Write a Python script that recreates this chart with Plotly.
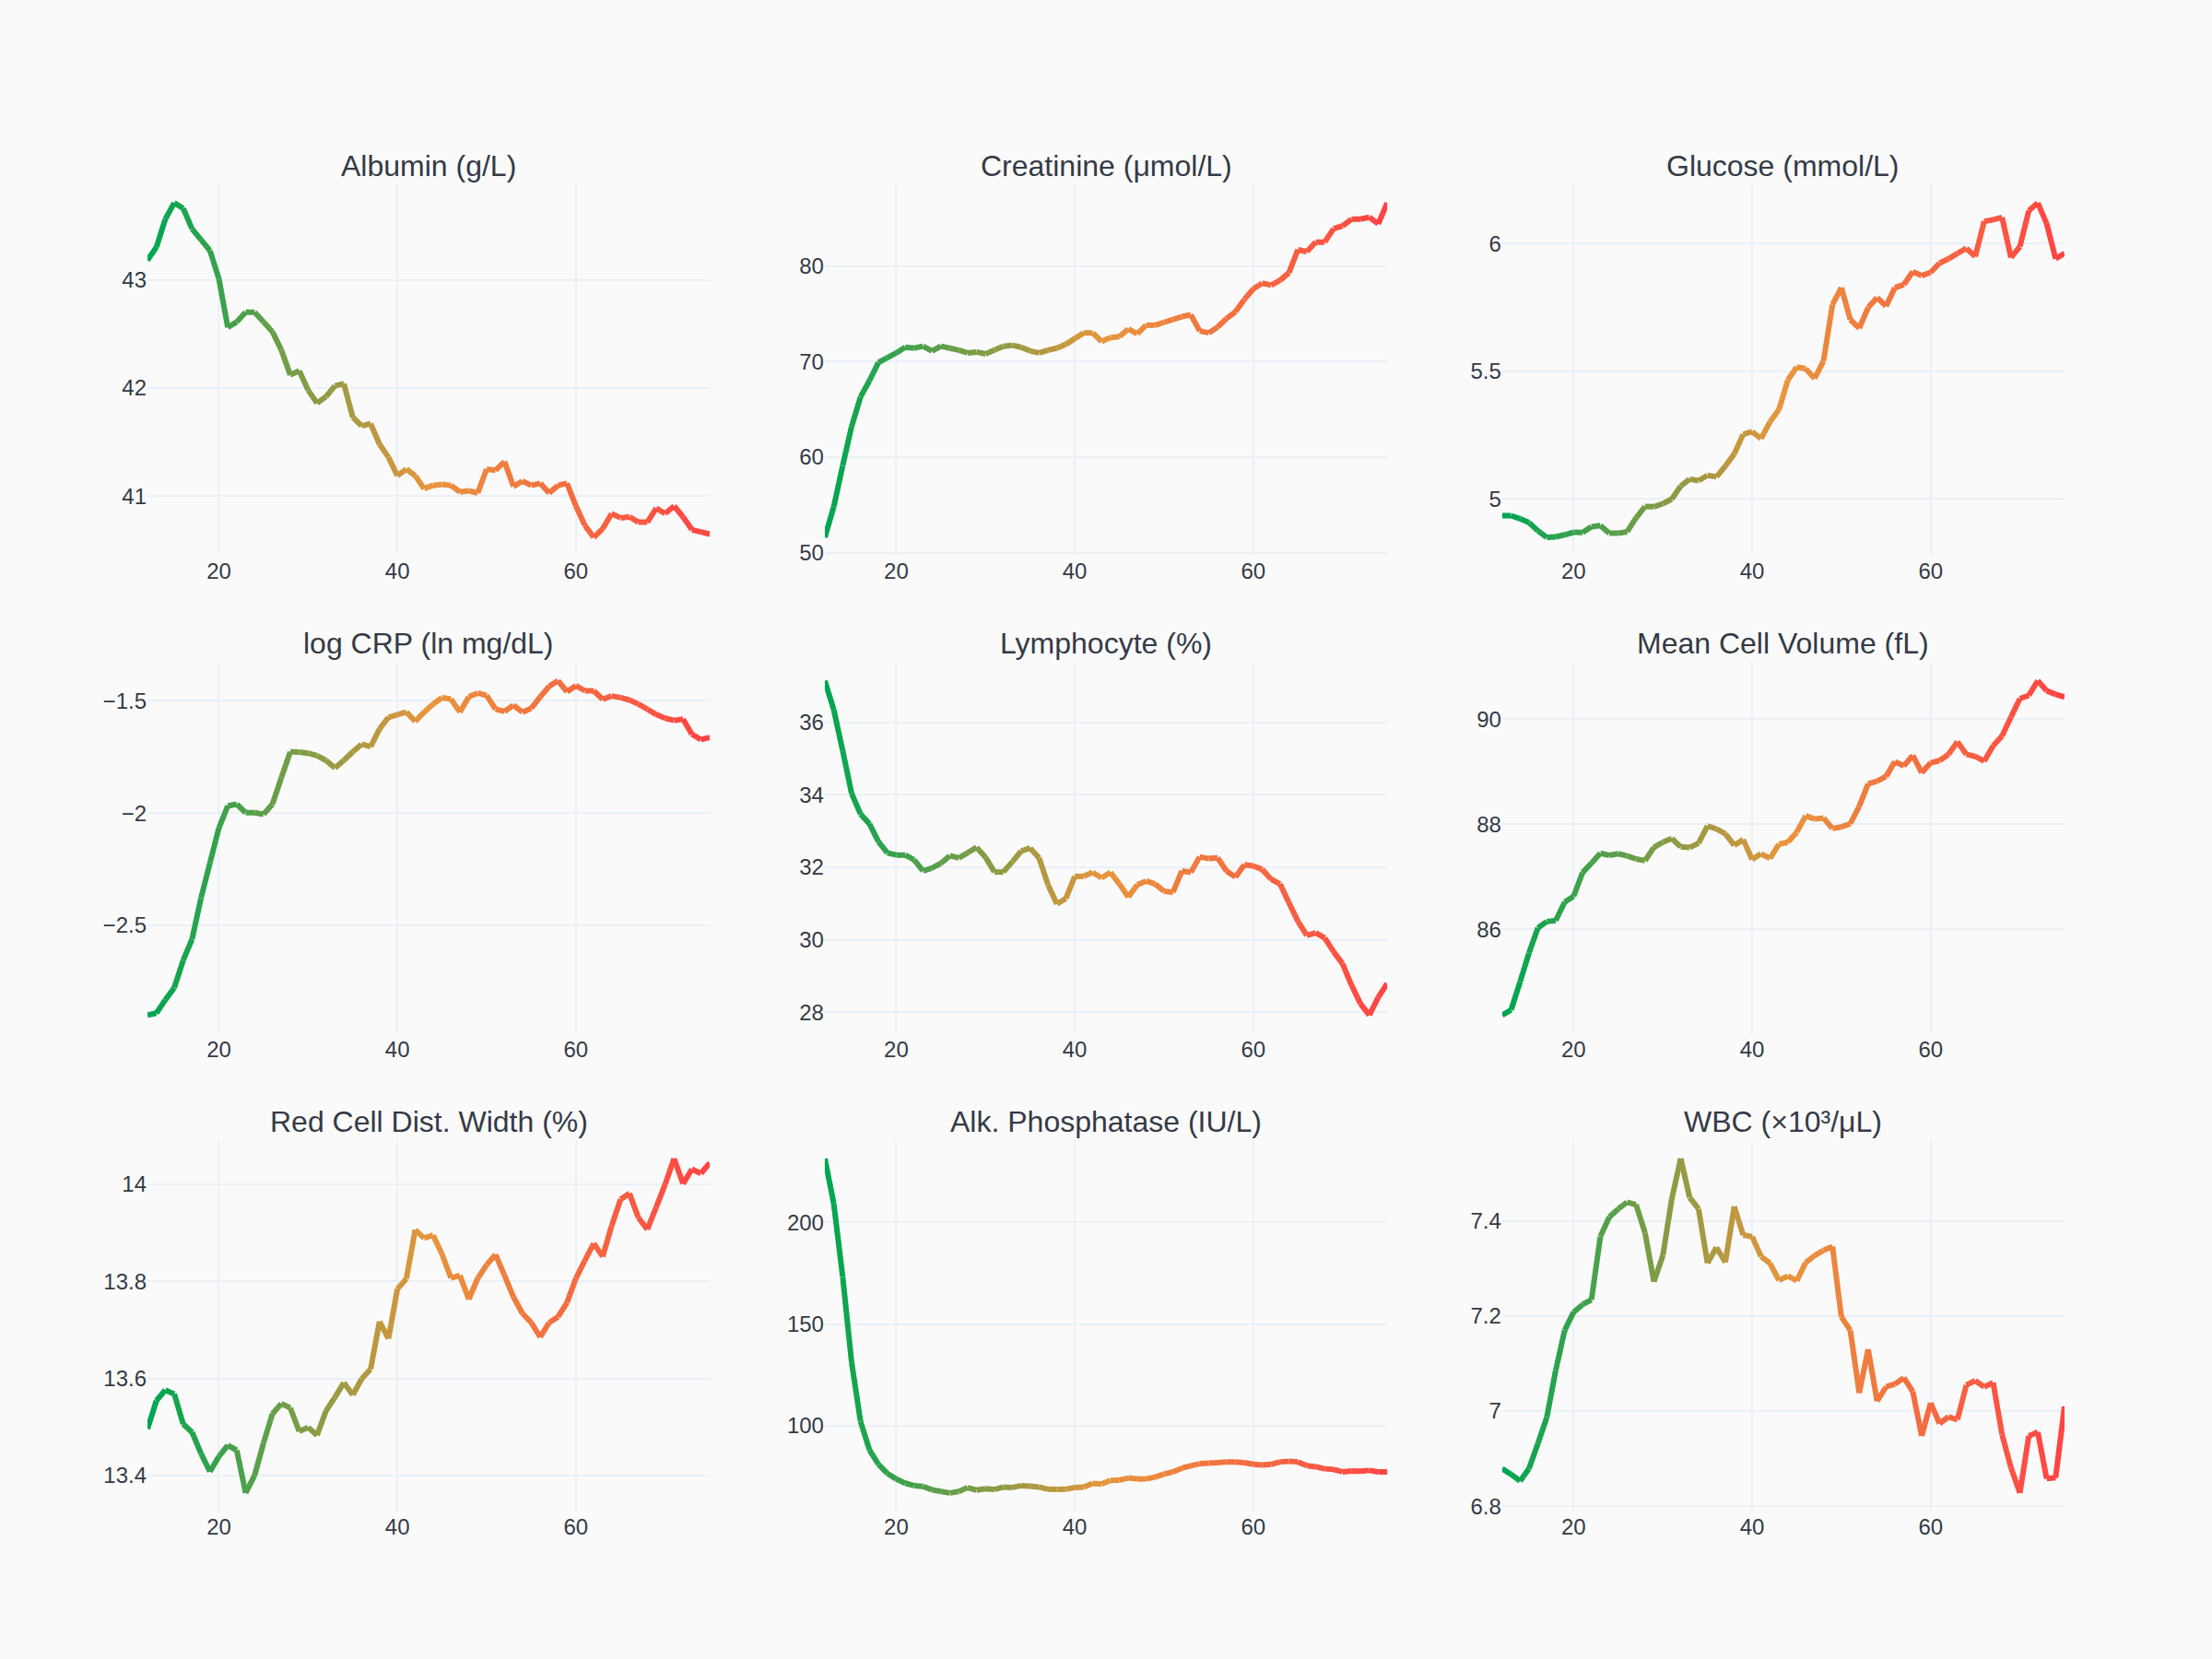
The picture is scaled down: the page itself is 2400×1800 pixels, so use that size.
import plotly.graph_objects as go
from plotly.subplots import make_subplots

AGES = list(range(12, 76))

TITLES = [
    "Albumin (g/L)", "Creatinine (μmol/L)", "Glucose (mmol/L)",
    "log CRP (ln mg/dL)", "Lymphocyte (%)", "Mean Cell Volume (fL)",
    "Red Cell Dist. Width (%)", "Alk. Phosphatase (IU/L)", "WBC (×10³/μL)",
]

ALBUMIN = [43.18, 43.30, 43.56, 43.71, 43.66, 43.47, 43.37, 43.27, 43.01, 42.56,
           42.61, 42.70, 42.70, 42.61, 42.52, 42.35, 42.12, 42.16, 41.98, 41.86,
           41.92, 42.02, 42.04, 41.73, 41.65, 41.67, 41.48, 41.36, 41.19, 41.25,
           41.19, 41.07, 41.10, 41.11, 41.10, 41.04, 41.05, 41.03, 41.25, 41.24,
           41.32, 41.09, 41.14, 41.10, 41.12, 41.03, 41.10, 41.12, 40.91, 40.73,
           40.62, 40.70, 40.84, 40.80, 40.81, 40.76, 40.76, 40.89, 40.84, 40.91,
           40.81, 40.69, 40.67, 40.65]

CREATININE = [51.6, 54.8, 59.1, 63.2, 66.3, 68.0, 69.9, 70.4, 70.9, 71.5,
              71.4, 71.6, 71.1, 71.6, 71.4, 71.2, 70.9, 71.0, 70.8, 71.2,
              71.6, 71.7, 71.5, 71.1, 70.9, 71.2, 71.4, 71.8, 72.4, 73.0,
              73.0, 72.1, 72.5, 72.6, 73.4, 72.9, 73.8, 73.8, 74.1, 74.4,
              74.7, 74.9, 73.2, 73.0, 73.6, 74.5, 75.2, 76.5, 77.6, 78.2,
              78.0, 78.5, 79.3, 81.7, 81.5, 82.5, 82.5, 83.9, 84.2, 84.9,
              84.9, 85.1, 84.4, 86.6]

GLUCOSE = [4.935, 4.935, 4.923, 4.908, 4.876, 4.850, 4.852, 4.860, 4.870, 4.869,
           4.892, 4.896, 4.866, 4.866, 4.872, 4.926, 4.971, 4.970, 4.982, 5.000,
           5.051, 5.078, 5.072, 5.093, 5.087, 5.129, 5.177, 5.254, 5.264, 5.237,
           5.302, 5.350, 5.466, 5.517, 5.511, 5.472, 5.541, 5.762, 5.828, 5.703,
           5.669, 5.750, 5.789, 5.756, 5.828, 5.840, 5.891, 5.875, 5.888, 5.924,
           5.941, 5.962, 5.982, 5.950, 6.088, 6.094, 6.103, 5.946, 5.989, 6.130,
           6.160, 6.079, 5.941, 5.963]

LOG_CRP = [-2.900, -2.891, -2.832, -2.778, -2.656, -2.561, -2.378, -2.222, -2.066, -1.968,
           -1.960, -1.998, -1.998, -2.005, -1.960, -1.842, -1.727, -1.728, -1.733, -1.744,
           -1.765, -1.799, -1.765, -1.727, -1.693, -1.704, -1.625, -1.573, -1.561, -1.550,
           -1.591, -1.550, -1.514, -1.486, -1.492, -1.550, -1.482, -1.465, -1.476, -1.537,
           -1.547, -1.519, -1.550, -1.533, -1.482, -1.435, -1.410, -1.459, -1.432, -1.455,
           -1.455, -1.493, -1.478, -1.485, -1.496, -1.514, -1.537, -1.561, -1.577, -1.587,
           -1.581, -1.649, -1.672, -1.663]

LYMPHOCYTE = [37.15, 36.35, 35.22, 34.04, 33.47, 33.20, 32.71, 32.40, 32.34, 32.34,
              32.21, 31.90, 31.98, 32.11, 32.32, 32.26, 32.40, 32.55, 32.28, 31.87,
              31.87, 32.15, 32.45, 32.53, 32.26, 31.52, 30.99, 31.14, 31.75, 31.75,
              31.86, 31.71, 31.86, 31.54, 31.18, 31.52, 31.62, 31.54, 31.34, 31.31,
              31.90, 31.86, 32.29, 32.24, 32.26, 31.90, 31.73, 32.07, 32.04, 31.94,
              31.67, 31.54, 31.02, 30.51, 30.12, 30.19, 30.05, 29.67, 29.34, 28.75,
              28.24, 27.92, 28.41, 28.79]

MCV = [84.37, 84.47, 85.00, 85.55, 86.03, 86.15, 86.17, 86.52, 86.63, 87.08,
       87.26, 87.45, 87.41, 87.44, 87.40, 87.34, 87.31, 87.56, 87.66, 87.73,
       87.57, 87.56, 87.64, 87.97, 87.91, 87.82, 87.60, 87.71, 87.33, 87.44,
       87.35, 87.62, 87.66, 87.85, 88.16, 88.10, 88.12, 87.92, 87.95, 88.01,
       88.34, 88.77, 88.82, 88.91, 89.19, 89.11, 89.31, 88.98, 89.17, 89.21,
       89.33, 89.57, 89.33, 89.29, 89.20, 89.49, 89.68, 90.04, 90.39, 90.45,
       90.73, 90.54, 90.47, 90.42]

RDW = [13.496, 13.554, 13.576, 13.568, 13.506, 13.489, 13.445, 13.408, 13.439, 13.462,
       13.452, 13.364, 13.400, 13.467, 13.527, 13.548, 13.539, 13.491, 13.499, 13.483,
       13.533, 13.561, 13.591, 13.566, 13.599, 13.619, 13.717, 13.682, 13.784, 13.805,
       13.906, 13.889, 13.895, 13.856, 13.807, 13.812, 13.763, 13.806, 13.834, 13.855,
       13.812, 13.768, 13.734, 13.715, 13.685, 13.715, 13.727, 13.756, 13.806, 13.843,
       13.878, 13.851, 13.914, 13.969, 13.981, 13.931, 13.907, 13.953, 14.000, 14.053,
       14.001, 14.031, 14.022, 14.044]

ALK_PHOS = [231.5, 209.3, 173.3, 131.2, 102.0, 88.0, 80.9, 76.4, 73.7, 71.6,
            70.4, 70.0, 68.4, 67.5, 66.8, 67.5, 69.4, 68.2, 68.9, 68.5,
            69.7, 69.5, 70.4, 70.1, 69.7, 68.6, 68.5, 68.6, 69.5, 69.7,
            71.5, 71.2, 73.0, 73.1, 74.2, 73.7, 73.7, 74.6, 76.1, 77.2,
            79.0, 80.2, 81.2, 81.5, 81.7, 82.1, 82.0, 81.7, 80.9, 80.6,
            80.9, 82.1, 82.4, 82.1, 80.2, 79.7, 78.7, 78.4, 77.2, 77.6,
            77.5, 77.9, 77.2, 77.2]

WBC = [6.879, 6.867, 6.853, 6.879, 6.932, 6.987, 7.086, 7.170, 7.208, 7.224,
       7.234, 7.367, 7.408, 7.425, 7.439, 7.434, 7.375, 7.272, 7.327, 7.446,
       7.531, 7.449, 7.425, 7.311, 7.344, 7.313, 7.430, 7.370, 7.367, 7.325,
       7.311, 7.275, 7.284, 7.274, 7.312, 7.327, 7.338, 7.346, 7.198, 7.170,
       7.038, 7.130, 7.021, 7.051, 7.057, 7.070, 7.041, 6.948, 7.017, 6.974,
       6.988, 6.982, 7.055, 7.064, 7.051, 7.060, 6.951, 6.881, 6.828, 6.948,
       6.956, 6.858, 6.860, 7.010]

SERIES = [ALBUMIN, CREATININE, GLUCOSE, LOG_CRP, LYMPHOCYTE, MCV, RDW, ALK_PHOS, WBC]
Y_DTICKS = [1, 10, 0.5, 0.5, 2, 2, 0.2, 50, 0.2]

STOPS = [(0.0, (0, 166, 81)), (0.5, (232, 149, 60)), (1.0, (255, 68, 68))]


def grad(t):
    for (t0, c0), (t1, c1) in zip(STOPS[:-1], STOPS[1:]):
        if t <= t1:
            f = (t - t0) / (t1 - t0)
            return "rgb({},{},{})".format(*[round(a + (b - a) * f) for a, b in zip(c0, c1)])
    return "rgb({},{},{})".format(*STOPS[-1][1])


TEXT = "#343a46"
GRID = "#EBF0F8"
BG = "#fafafa"
FONT = "Liberation Sans, Arial, Helvetica, sans-serif"

fig = make_subplots(rows=3, cols=3, subplot_titles=TITLES,
                    horizontal_spacing=0.06, vertical_spacing=0.08)

for k, vals in enumerate(SERIES):
    r, c = k // 3 + 1, k % 3 + 1
    n = min(len(AGES), len(vals))
    for i in range(n - 1):
        t = i / (n - 2)
        fig.add_trace(go.Scatter(
            x=AGES[i:i + 2], y=vals[i:i + 2], mode="lines",
            line=dict(color=grad(t), width=6),
            showlegend=False, hoverinfo="skip"), row=r, col=c)
    fig.update_yaxes(dtick=Y_DTICKS[k], row=r, col=c)

fig.update_xaxes(dtick=20, tick0=0, showgrid=True, gridcolor=GRID, gridwidth=2,
                 zeroline=False, showline=False, ticks="",
                 tickfont=dict(size=24, color=TEXT))
fig.update_yaxes(showgrid=True, gridcolor=GRID, gridwidth=2,
                 zeroline=False, showline=False, ticks="",
                 tickfont=dict(size=24, color=TEXT))

fig.update_annotations(font=dict(size=32, color=TEXT, family=FONT))

fig.update_layout(
    template="plotly_white",
    width=2400, height=1800,
    margin=dict(l=160, r=160, t=200, b=160),
    paper_bgcolor=BG, plot_bgcolor=BG,
    font=dict(family=FONT, size=24, color=TEXT),
    showlegend=False,
)

fig.write_html(
    "out.html",
    config={"displayModeBar": False},
    post_script="document.body.style.margin='0';document.body.style.background='#fafafa';",
)
